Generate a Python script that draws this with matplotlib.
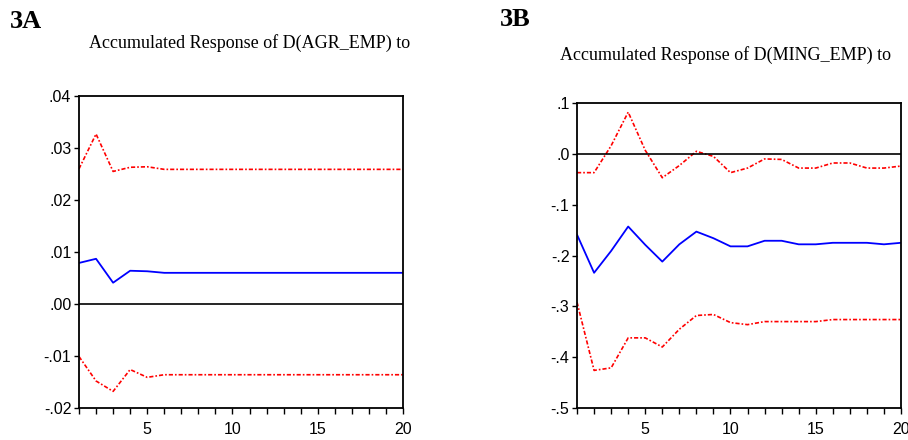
import numpy as np
import matplotlib
matplotlib.use('Agg')
import matplotlib.pyplot as plt
from matplotlib.ticker import FuncFormatter, MultipleLocator

# periods
steps = list(range(1, 21))

# 3A: accumulated response of D(AGR_EMP)
agr_resp = [0.0079, 0.0087, 0.0041, 0.0064, 0.0063] + [0.0060] * 15
agr_upper = [0.0260, 0.0327, 0.0255, 0.0263, 0.0264] + [0.0259] * 15
agr_lower = [-0.0101, -0.0148, -0.0168, -0.0126, -0.0141] + [-0.0136] * 15

# 3B: accumulated response of D(MING_EMP)
ming_resp = [-0.159, -0.234, -0.191, -0.143, -0.179, -0.212, -0.178, -0.153, -0.166, -0.182,
             -0.182, -0.171, -0.171, -0.178, -0.178, -0.175, -0.175, -0.175, -0.178, -0.175]
ming_upper = [-0.037, -0.037, 0.016, 0.082, 0.007, -0.047, -0.023, 0.005, -0.005, -0.037,
              -0.028, -0.010, -0.011, -0.028, -0.028, -0.018, -0.018, -0.028, -0.028, -0.024]
ming_lower = [-0.292, -0.426, -0.421, -0.362, -0.362, -0.380, -0.345, -0.318, -0.316, -0.332,
              -0.336, -0.330, -0.330, -0.330, -0.330, -0.326, -0.326, -0.326, -0.326, -0.326]

TICK_FONT = ['Liberation Sans Narrow', 'Liberation Sans']


def fmt_tick(v, pos, nd):
    s = ('%.' + str(nd) + 'f') % v
    if s.startswith('-0'):
        s = '-' + s[2:]
    elif s.startswith('0'):
        s = s[1:]
    return s


def irfPanel(ax, resp, upper, lower, ymin, ymax, ystep, nd):
    ax.plot(steps, upper, color='red', lw=1.2, ls=(0, (2.5, 1.2, 1, 1.2)))
    ax.plot(steps, lower, color='red', lw=1.2, ls=(0, (2.5, 1.2, 1, 1.2)))
    ax.plot(steps, resp, color='blue', lw=1.3)
    ax.axhline(0, color='black', lw=1.2)
    ax.set_xlim(1, 20)
    ax.set_ylim(ymin, ymax)
    ax.xaxis.set_major_locator(MultipleLocator(5))
    ax.xaxis.set_minor_locator(MultipleLocator(1))
    ax.yaxis.set_major_locator(MultipleLocator(ystep))
    ax.yaxis.set_major_formatter(FuncFormatter(lambda v, p: fmt_tick(v, p, nd)))
    ax.tick_params(axis='both', which='both', direction='out', length=3.5, width=1,
                   labelsize=11.5, pad=2)
    ax.tick_params(axis='x', which='both', length=4, pad=6)
    for sp in ax.spines.values():
        sp.set_linewidth(1.3)
    for lab in ax.get_xticklabels() + ax.get_yticklabels():
        lab.set_family(TICK_FONT)


fig = plt.figure(figsize=(9.08, 4.4), dpi=100)

axA = fig.add_axes([0.087, 0.0727, 0.3568, 0.709])
irfPanel(axA, agr_resp, agr_upper, agr_lower, -0.02, 0.04, 0.01, 2)

axB = fig.add_axes([0.6355, 0.0727, 0.3568, 0.6932])
irfPanel(axB, ming_resp, ming_upper, ming_lower, -0.5, 0.1, 0.1, 1)

fig.text(0.011, 0.952, '3A', family='Liberation Serif', weight='bold', fontsize=19, va='center')
fig.text(0.275, 0.902, 'Accumulated Response of D(AGR_EMP) to', family='Liberation Serif',
         fontsize=13, ha='center', va='center')
fig.text(0.550, 0.955, '3B', family='Liberation Serif', weight='bold', fontsize=19, va='center')
fig.text(0.799, 0.875, 'Accumulated Response of D(MING_EMP) to', family='Liberation Serif',
         fontsize=13, ha='center', va='center')

plt.savefig('out.png', dpi=100)
